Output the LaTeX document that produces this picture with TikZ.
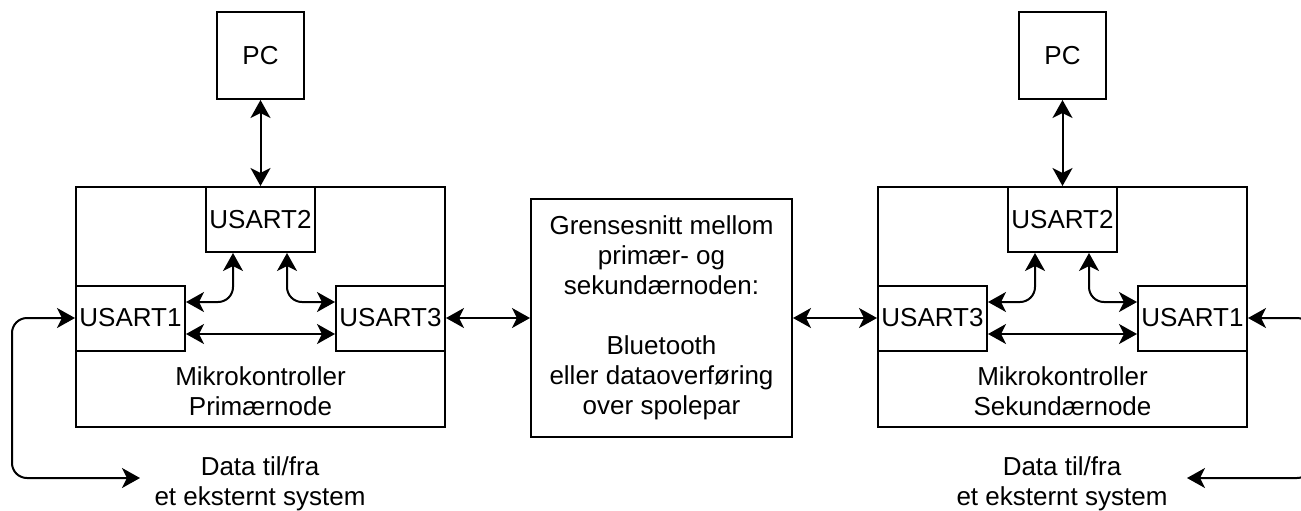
\documentclass[tikz,border=0pt]{standalone}
\usepackage{fontspec}
\setmainfont{Liberation Sans}
\usetikzlibrary{positioning,arrows.meta}

\begin{document}
\begin{tikzpicture}[
  x=0.5pt, y=-0.5pt,
  font=\fontsize{13}{15}\selectfont,
  box/.style={rectangle, draw, line width=1pt, inner sep=0pt, align=center},
  mcu/.style={box, minimum width=184.5pt, minimum height=120pt},
  usart/.style={box, minimum width=54.5pt, minimum height=32.5pt},
  pc/.style={box, minimum width=43.5pt, minimum height=43.5pt},
  lbl/.style={align=center, inner sep=0pt},
  arr/.style={{Stealth[length=9pt,width=10pt,inset=2.5pt]}-{Stealth[length=9pt,width=10pt,inset=2.5pt]}, line width=1pt}
]
\path[use as bounding box, clip] (0,0) rectangle (1301,510);

% primary node
\node[mcu] (mcuA) at (260.5,307) {};
\node[pc, above=43pt of mcuA] (pcA) {PC};
\node[usart, below=0pt of mcuA.north] (u2A) {USART2};
\node[usart, right=0pt of mcuA.west, yshift=-5.5pt] (u1A) {USART1};
\node[usart, left=0pt of mcuA.east, yshift=-5.5pt] (u3A) {USART3};
\node[lbl] (txtA) at (260.5,391) {Mikrokontroller\\Primærnode};
\node[lbl] (dataA) at (260,484) {Data til/fra\\et eksternt system};

% interface
\node[box, minimum width=130.5pt, minimum height=119pt] (mid) at (661.5,318)
  {Grensesnitt mellom\\primær- og\\sekundærnoden:\\[\baselineskip]Bluetooth\\eller dataoverføring\\over spolepar};

% secondary node
\node[mcu] (mcuB) at (1062.5,307) {};
\node[pc, above=43pt of mcuB] (pcB) {PC};
\node[usart, below=0pt of mcuB.north] (u2B) {USART2};
\node[usart, right=0pt of mcuB.west, yshift=-5.5pt] (u3B) {USART3};
\node[usart, left=0pt of mcuB.east, yshift=-5.5pt] (u1B) {USART1};
\node[lbl] (txtB) at (1062.5,391) {Mikrokontroller\\Sekundærnode};
\node[lbl] (dataB) at (1062,484) {Data til/fra\\et eksternt system};

\coordinate (extA) at (140,478);
\coordinate (bendA) at (12,478);
\coordinate (extB) at (1187,478);
\coordinate (bendB) at (1312,478);

\draw[arr] (pcA) -- (mcuA);
\draw[arr, rounded corners=7.5pt] ([yshift=8pt]u1A.east) -| ([xshift=-13.75pt]u2A.south);
\draw[arr, rounded corners=7.5pt] ([xshift=13.25pt]u2A.south) |- ([yshift=8pt]u3A.west);
\draw[arr] ([yshift=-8pt]u1A.east) -- ([yshift=-8pt]u3A.west);
\draw[arr, rounded corners=7.5pt] (extA) -- (bendA) |- (u1A.west);
\draw[arr] (u3A) -- (mid);

\draw[arr] (mid) -- (u3B);
\draw[arr] (pcB) -- (mcuB);
\draw[arr, rounded corners=7.5pt] ([yshift=8pt]u3B.east) -| ([xshift=-13.75pt]u2B.south);
\draw[arr, rounded corners=7.5pt] ([xshift=13.25pt]u2B.south) |- ([yshift=8pt]u1B.west);
\draw[arr] ([yshift=-8pt]u3B.east) -- ([yshift=-8pt]u1B.west);
\draw[arr, rounded corners=7.5pt] (extB) -- (bendB) |- (u1B.east);

\end{tikzpicture}
\end{document}
